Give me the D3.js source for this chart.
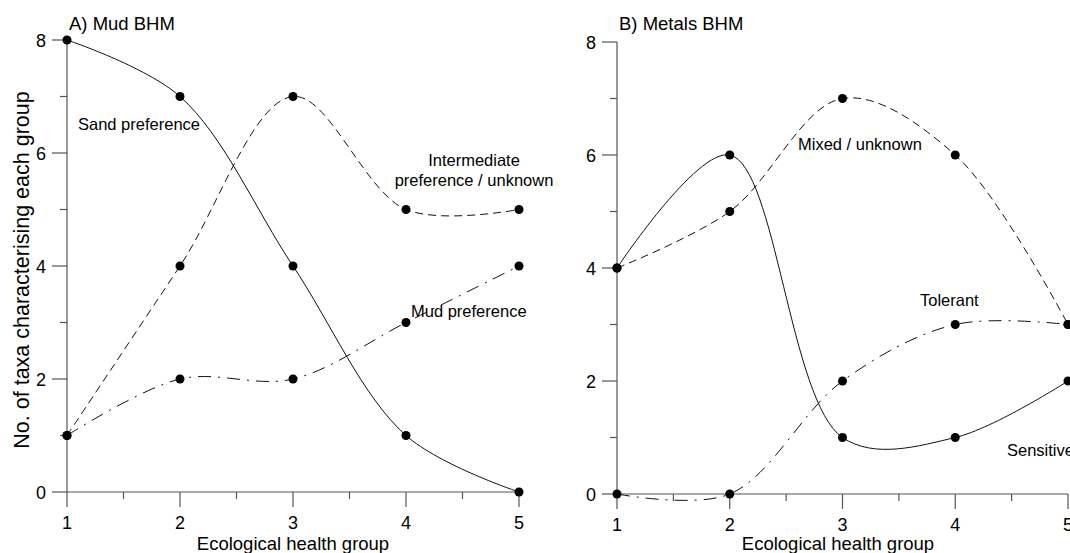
<!DOCTYPE html>
<html>
<head>
<meta charset="utf-8">
<script src="https://cdn.jsdelivr.net/npm/d3@7"></script>
<style>
  body { margin: 0; background: #fff; }
  svg { display: block; font-family: "Liberation Sans", Arial, sans-serif; }
</style>
</head>
<body>
<svg id="chart" width="1070" height="553"></svg>
<script>
// ---------- data ----------
const groups = [1, 2, 3, 4, 5];
const yTicks = [0, 2, 4, 6, 8];

// panel A : Mud BHM
const sandPref = [8, 7, 4, 1, 0];
const intermediatePref = [1, 4, 7, 5, 5];
const mudPref = [1, 2, 2, 3, 4];

// panel B : Metals BHM
const sensitive = [4, 6, 1, 1, 2];
const mixedUnknown = [4, 5, 7, 6, 3];
const tolerant = [0, 0, 2, 3, 3];

const svg = d3.select("#chart");

const dashes = { solid: null, dash: "8,5", dashdot: "13,7,2,7" };

function drawPanel(p) {
    const x = d3.scaleLinear().domain([1, 5]).range([p.left, p.right]);
    const y = d3.scaleLinear().domain([0, 8]).range([p.bottom, p.top]);
    const g = svg.append("g");

    // axes (major + minor ticks drawn by hand, like the original)
    g.append("line").attr("x1", x(1)).attr("x2", x(5)).attr("y1", y(0)).attr("y2", y(0))
        .attr("stroke", "#555").attr("stroke-width", 1.2);
    g.append("line").attr("x1", x(1)).attr("x2", x(1)).attr("y1", y(0)).attr("y2", y(8))
        .attr("stroke", "#555").attr("stroke-width", 1.2);

    d3.range(1, 5.01, 0.5).forEach(function (v) {
        const major = Number.isInteger(v);
        g.append("line").attr("x1", x(v)).attr("x2", x(v))
            .attr("y1", y(0)).attr("y2", y(0) + (major ? 15 : 7))
            .attr("stroke", "#555").attr("stroke-width", 1.2);
    });
    d3.range(0, 8.01, 1).forEach(function (v) {
        const major = v % 2 == 0;
        g.append("line").attr("x1", x(1) - (major ? 15 : 7)).attr("x2", x(1))
            .attr("y1", y(v)).attr("y2", y(v))
            .attr("stroke", "#555").attr("stroke-width", 1.2);
    });

    g.selectAll(".xl").data(groups).enter().append("text")
        .attr("x", d => x(d)).attr("y", y(0) + 37)
        .attr("text-anchor", "middle").attr("font-size", 18).text(d => d);
    g.selectAll(".yl").data(yTicks).enter().append("text")
        .attr("x", x(1) - 21).attr("y", d => y(d) + 6.5)
        .attr("text-anchor", "end").attr("font-size", 18).text(d => d);

    g.append("text").attr("x", p.left + 2).attr("y", 30)
        .attr("font-size", 18.5).text(p.title);
    g.append("text").attr("x", p.xTitleX).attr("y", 550)
        .attr("text-anchor", "middle").attr("font-size", 18.5).text("Ecological health group");

    // centripetal Catmull-Rom gives the tight spline of the original
    const line = d3.line()
        .x((d, i) => x(groups[i]))
        .y(d => y(d))
        .curve(d3.curveCatmullRom.alpha(0.5));

    p.series.forEach(function (s) {
        g.append("path").attr("d", line(s.values))
            .attr("fill", "none").attr("stroke", "#111").attr("stroke-width", 1)
            .attr("stroke-dasharray", dashes[s.style]);
        g.selectAll(null).data(s.values).enter().append("circle")
            .attr("cx", (d, i) => x(groups[i])).attr("cy", d => y(d))
            .attr("r", 4.5).attr("fill", "#000");
    });

    p.labels.forEach(function (l) {
        const t = g.append("text").attr("x", l.x).attr("y", l.y)
            .attr("font-size", 16.5).attr("text-anchor", l.anchor || "start");
        l.text.forEach(function (line, i) {
            t.append("tspan").attr("x", l.x).attr("dy", i == 0 ? 0 : 20).text(line);
        });
    });
}

drawPanel({
    title: "A) Mud BHM", left: 67, right: 519, top: 40, bottom: 492, xTitleX: 293,
    series: [
        { values: sandPref, style: "solid" },
        { values: intermediatePref, style: "dash" },
        { values: mudPref, style: "dashdot" }
    ],
    labels: [
        { text: ["Sand preference"], x: 78, y: 130 },
        { text: ["Intermediate", "preference / unknown"], x: 474, y: 166, anchor: "middle" },
        { text: ["Mud preference"], x: 411, y: 317 }
    ]
});

drawPanel({
    title: "B) Metals BHM", left: 617, right: 1068, top: 42, bottom: 494, xTitleX: 838,
    series: [
        { values: sensitive, style: "solid" },
        { values: mixedUnknown, style: "dash" },
        { values: tolerant, style: "dashdot" }
    ],
    labels: [
        { text: ["Mixed / unknown"], x: 798, y: 150 },
        { text: ["Tolerant"], x: 920, y: 306 },
        { text: ["Sensitive"], x: 1007, y: 456 }
    ]
});

// shared y title
svg.append("text")
    .attr("transform", "translate(29,270) rotate(-90)")
    .attr("text-anchor", "middle").attr("font-size", 21.5)
    .text("No. of taxa characterising each group");
</script>
</body>
</html>
